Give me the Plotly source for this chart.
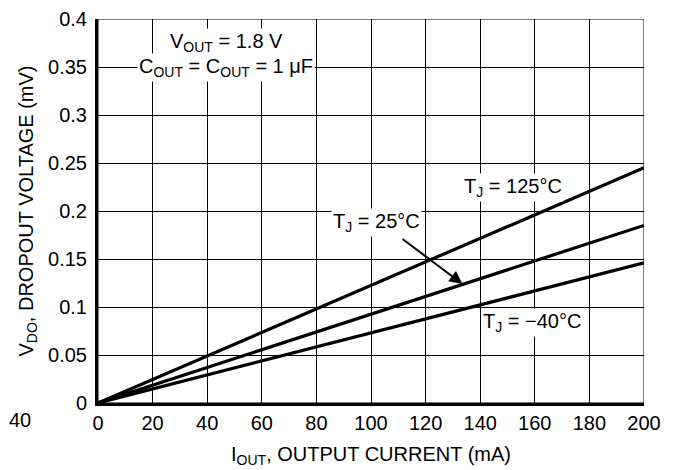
import plotly.graph_objects as go

# output current (mA) and dropout voltage for each junction temperature
i_out = [0, 200]
vdo_125 = [0, 0.245]
vdo_25 = [0, 0.185]
vdo_m40 = [0, 0.146]

x_ticks = [0, 20, 40, 60, 80, 100, 120, 140, 160, 180, 200]
y_ticks = [0, 0.05, 0.1, 0.15, 0.2, 0.25, 0.3, 0.35, 0.4]

FONT = "Liberation Sans, Arial, Helvetica, sans-serif"
FS = 20

fig = go.Figure()
for ys in (vdo_125, vdo_25, vdo_m40):
    fig.add_trace(go.Scatter(x=i_out, y=ys, mode="lines",
                             line=dict(color="black", width=3.2), showlegend=False))

fig.update_xaxes(range=[0, 200], tickvals=x_ticks, showgrid=True, gridcolor="black",
                 gridwidth=1, zeroline=False, showline=True, linecolor="black",
                 linewidth=3, ticks="", tickfont=dict(size=FS), ticklabeloverflow="allow",
                 automargin=False,
                 title=dict(text="I<sub>OUT</sub>, OUTPUT CURRENT (mA)", font=dict(size=FS),
                            standoff=14))
fig.update_yaxes(range=[0, 0.4], tickvals=y_ticks, showgrid=True, gridcolor="black",
                 gridwidth=1, zeroline=False, showline=True, linecolor="black",
                 linewidth=3, ticks="", tickfont=dict(size=FS), ticklabeloverflow="allow",
                 automargin=False, ticklabelstandoff=4,
                 title=dict(text="V<sub>DO</sub>, DROPOUT VOLTAGE (mV)", font=dict(size=FS),
                            standoff=10))

# top and right borders
fig.add_shape(type="rect", xref="x", yref="y", x0=0, x1=200, y0=0, y1=0.4,
              line=dict(color="black", width=1), layer="below")

ann = dict(showarrow=False, bgcolor="white", font=dict(size=FS, color="black"))
fig.add_annotation(x=47, y=0.376, text="V<sub>OUT</sub> = 1.8 V", **ann)
fig.add_annotation(x=47, y=0.349, text="C<sub>OUT</sub> = C<sub>OUT</sub> = 1 \u03bcF", **ann)
fig.add_annotation(x=152, y=0.225, text="T<sub>J</sub> = 125\u00b0C", **ann)
fig.add_annotation(x=102, y=0.188, text="T<sub>J</sub> = 25\u00b0C", **ann)
fig.add_annotation(x=159, y=0.084, text="T<sub>J</sub> = \u221240\u00b0C", **ann)
fig.add_annotation(x=133.5, y=0.124, ax=111, ay=0.172, xref="x", yref="y",
                   axref="x", ayref="y", text="", showarrow=True, arrowhead=2,
                   arrowsize=1.3, arrowwidth=2, arrowcolor="black")
fig.add_annotation(x=-0.143, y=-0.044, xref="paper", yref="paper", text="40",
                   xanchor="center", yanchor="middle",
                   showarrow=False, font=dict(size=FS, color="black"))

fig.update_layout(width=677, height=470, plot_bgcolor="white", paper_bgcolor="white",
                  font=dict(family=FONT, color="black", size=FS),
                  margin=dict(l=90, r=41, t=11, b=75))

fig.write_html("out.html")
